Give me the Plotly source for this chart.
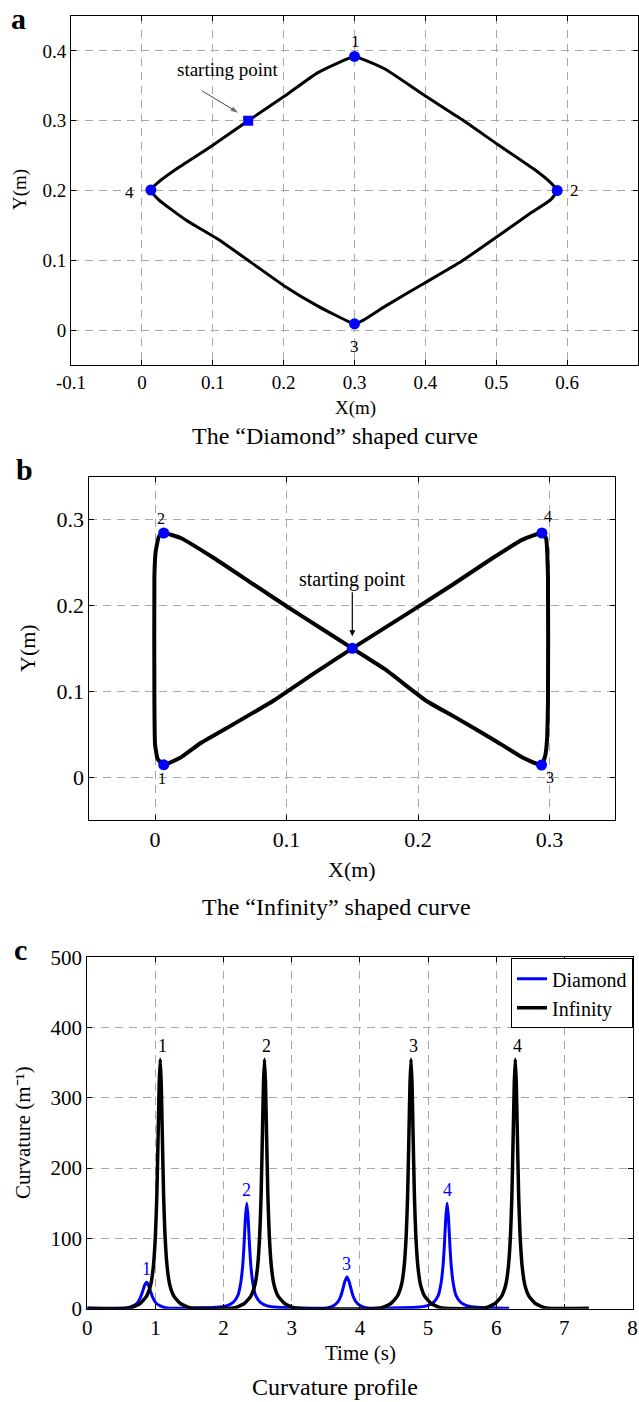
import plotly.graph_objects as go

W, H = 639, 1402
FONT = "Liberation Serif, Times New Roman, serif"

# ---------------- (a) Diamond path ----------------
dia_x = [0.150, 0.202, 0.249, 0.300, 0.312, 0.343, 0.399, 0.451, 0.502, 0.554, 0.577, 0.586,
         0.577, 0.549, 0.502, 0.451, 0.399, 0.343, 0.312, 0.300, 0.272, 0.249, 0.202, 0.155,
         0.108, 0.061, 0.0235, 0.0127, 0.0235, 0.0517, 0.0986, 0.150]
dia_y = [0.300, 0.3356, 0.3693, 0.392, 0.388, 0.374, 0.336, 0.302, 0.266, 0.230, 0.211, 0.200,
         0.187, 0.168, 0.1345, 0.0986, 0.0675, 0.034, 0.014, 0.009, 0.022, 0.034, 0.0626, 0.0963,
         0.1297, 0.1585, 0.187, 0.2006, 0.212, 0.2328, 0.2638, 0.300]
dia_pt_x = [0.300, 0.586, 0.300, 0.0127]
dia_pt_y = [0.392, 0.200, 0.009, 0.2006]
dia_pt_lbl = ["1", "2", "3", "4"]
dia_start = (0.150, 0.300)
# pointer for the "starting point" note: tail and tip, relative to the start
dia_arrow_dx = [-0.0655, -0.0140]
dia_arrow_dy = [0.0430, 0.0115]

# ---------------- (b) Infinity path ----------------
inf_x = [0.150, 0.120, 0.090, 0.060, 0.035, 0.0195, 0.0066, 0.002, 0.000, -0.0005, -0.0005,
         0.0005, 0.003, 0.0066, 0.0195, 0.0447, 0.075, 0.1003, 0.1255, 0.150, 0.1745, 0.2064,
         0.2265, 0.2568, 0.2795, 0.2939, 0.2967, 0.298, 0.2988, 0.2988, 0.2973, 0.2942,
         0.2795, 0.2568, 0.2265, 0.1988, 0.150]
inf_y = [0.150, 0.120, 0.089, 0.062, 0.040, 0.0228, 0.0143, 0.021, 0.038, 0.090, 0.234,
         0.263, 0.2806, 0.2844, 0.2786, 0.2553, 0.2244, 0.1988, 0.174, 0.150, 0.126, 0.0887,
         0.0713, 0.0442, 0.0228, 0.0140, 0.0248, 0.0422, 0.0887, 0.2341, 0.2786, 0.2844,
         0.2767, 0.2553, 0.2244, 0.1972, 0.150]
inf_pt_x = [0.0066, 0.0066, 0.2939, 0.2942]
inf_pt_y = [0.0143, 0.2844, 0.0140, 0.2844]
inf_pt_lbl = ["1", "2", "3", "4"]
inf_start = (0.150, 0.150)

# ---------------- (c) Curvature profiles ----------------
diamond_t = [0.00, 0.57, 0.67, 0.74, 0.78, 0.81, 0.84, 0.87, 0.90, 0.93, 0.96, 1.00, 1.07, 1.17,
             1.89, 2.04, 2.14, 2.21, 2.25, 2.28, 2.30, 2.32, 2.34, 2.36, 2.38, 2.40, 2.43, 2.47, 2.54, 2.64, 2.79,
             3.51, 3.61, 3.68, 3.72, 3.75, 3.78, 3.81, 3.84, 3.87, 3.90, 3.94, 4.01, 4.11,
             4.83, 4.98, 5.08, 5.15, 5.19, 5.22, 5.24, 5.26, 5.28, 5.30, 5.32, 5.34, 5.37, 5.41, 5.48, 5.58, 5.73,
             6.19]
diamond_k = [0.5, 1, 4, 9, 16, 24, 33, 37.5, 33, 24, 16, 9, 4, 1,
             2, 4, 9, 19, 36, 61, 91, 129, 150, 129, 91, 61, 36, 19, 9, 4, 2,
             1, 4, 10, 18, 28, 39, 45, 39, 28, 18, 10, 4, 1,
             2, 4, 9, 19, 36, 61, 91, 129, 150, 129, 91, 61, 36, 19, 9, 4, 2,
             0.5]
infinity_t = [0.00,
              0.62, 0.77, 0.87, 0.93, 0.97, 1.00, 1.02, 1.04, 1.055, 1.07, 1.085, 1.10, 1.12, 1.14, 1.17, 1.21, 1.27, 1.37, 1.52,
              2.15, 2.30, 2.40, 2.46, 2.50, 2.53, 2.55, 2.57, 2.585, 2.60, 2.615, 2.63, 2.65, 2.67, 2.70, 2.74, 2.80, 2.90, 3.05,
              4.30, 4.45, 4.55, 4.61, 4.65, 4.68, 4.70, 4.72, 4.735, 4.75, 4.765, 4.78, 4.80, 4.82, 4.85, 4.89, 4.95, 5.05, 5.20,
              5.83, 5.98, 6.08, 6.14, 6.18, 6.21, 6.23, 6.25, 6.265, 6.28, 6.295, 6.31, 6.33, 6.35, 6.38, 6.42, 6.48, 6.58, 6.73,
              7.36]
infinity_k = [0.5,
              1, 7, 18, 34, 61, 105, 160, 250, 320, 355, 320, 250, 160, 105, 61, 34, 18, 7, 1,
              1, 7, 18, 34, 61, 105, 160, 250, 320, 355, 320, 250, 160, 105, 61, 34, 18, 7, 1,
              1, 7, 18, 34, 61, 105, 160, 250, 320, 355, 320, 250, 160, 105, 61, 34, 18, 7, 1,
              1, 7, 18, 34, 61, 105, 160, 250, 320, 355, 320, 250, 160, 105, 61, 34, 18, 7, 1,
              0.5]
diamond_peak_t = [0.87, 2.34, 3.81, 5.28]
diamond_peak_k = [37.5, 150, 45, 150]
infinity_peak_t = [1.07, 2.60, 4.75, 6.28]
infinity_peak_k = [355, 355, 355, 355]
peak_lbl = ["1", "2", "3", "4"]

# tick labels
a_xticks = [-0.1, 0, 0.1, 0.2, 0.3, 0.4, 0.5, 0.6]
a_xtext = ["-0.1", "0", "0.1", "0.2", "0.3", "0.4", "0.5", "0.6"]
a_yticks = [0, 0.1, 0.2, 0.3, 0.4]
a_ytext = ["0", "0.1", "0.2", "0.3", "0.4"]
b_ticks = [0, 0.1, 0.2, 0.3]
b_text = ["0", "0.1", "0.2", "0.3"]
c_xticks = [0, 1, 2, 3, 4, 5, 6, 7, 8]
c_yticks = [0, 100, 200, 300, 400, 500]


def px(xp):
    return xp / W


def py(yp):
    return 1 - yp / H


def axis_style(size, **kw):
    d = dict(showline=True, linecolor="black", linewidth=1, mirror="ticks",
             ticks="inside", ticklen=5, tickwidth=1, tickcolor="black",
             showgrid=True, gridcolor="#a9a9a9", gridwidth=1, griddash="8px,6px",
             zeroline=False, automargin=False, ticklabeloverflow="allow",
             tickfont=dict(family=FONT, size=size, color="black"))
    d.update(kw)
    return d


fig = go.Figure()

# (a)
fig.add_trace(go.Scatter(x=dia_x, y=dia_y, mode="lines",
                         line=dict(color="black", width=3, shape="spline", smoothing=0.5),
                         xaxis="x", yaxis="y", showlegend=False, hoverinfo="skip"))
fig.add_trace(go.Scatter(x=dia_pt_x, y=dia_pt_y, mode="markers",
                         marker=dict(color="blue", size=11), xaxis="x", yaxis="y", showlegend=False))
fig.add_trace(go.Scatter(x=[dia_start[0]], y=[dia_start[1]], mode="markers",
                         marker=dict(color="blue", size=10, symbol="square"),
                         xaxis="x", yaxis="y", showlegend=False))
fig.add_trace(go.Scatter(x=[dia_start[0] + d for d in dia_arrow_dx],
                         y=[dia_start[1] + d for d in dia_arrow_dy],
                         mode="lines+markers", line=dict(color="#333333", width=0.9),
                         marker=dict(symbol=["line-ns", "arrow"], size=[0, 8], angleref="previous",
                                     color="#333333", line=dict(width=0)),
                         xaxis="x", yaxis="y", showlegend=False, hoverinfo="skip"))

# (b)
fig.add_trace(go.Scatter(x=inf_x, y=inf_y, mode="lines",
                         line=dict(color="black", width=4, shape="spline", smoothing=0.4),
                         xaxis="x2", yaxis="y2", showlegend=False, hoverinfo="skip"))
fig.add_trace(go.Scatter(x=inf_pt_x + [inf_start[0]], y=inf_pt_y + [inf_start[1]], mode="markers",
                         marker=dict(color="blue", size=11), xaxis="x2", yaxis="y2", showlegend=False))

# (c)
fig.add_trace(go.Scatter(x=diamond_t, y=diamond_k, mode="lines", name="Diamond",
                         line=dict(color="blue", width=3, shape="spline", smoothing=0.5),
                         xaxis="x3", yaxis="y3"))
fig.add_trace(go.Scatter(x=infinity_t, y=infinity_k, mode="lines", name="Infinity",
                         line=dict(color="black", width=3.5, shape="spline", smoothing=0.5),
                         xaxis="x3", yaxis="y3"))

ann = []

# point labels (a)
a_shift = [(1, 15), (17, 0), (0, -23), (-21, -2)]
for xv, yv, t, (dx, dy) in zip(dia_pt_x, dia_pt_y, dia_pt_lbl, a_shift):
    ann.append(dict(x=xv, y=yv, xref="x", yref="y", text=t, showarrow=False,
                    xshift=dx, yshift=dy, font=dict(family=FONT, size=17, color="black")))
ann.append(dict(x=dia_start[0], y=dia_start[1], xref="x", yref="y", text="starting point",
                showarrow=False, xshift=-20, yshift=51,
                font=dict(family=FONT, size=19, color="black")))

# point labels (b)
b_shift = [(-2, -14), (-3, 15), (8, -12), (6, 17)]
for xv, yv, t, (dx, dy) in zip(inf_pt_x, inf_pt_y, inf_pt_lbl, b_shift):
    ann.append(dict(x=xv, y=yv, xref="x2", yref="y2", text=t, showarrow=False,
                    xshift=dx, yshift=dy, font=dict(family=FONT, size=16, color="black")))
ann.append(dict(x=inf_start[0], y=inf_start[1], xref="x2", yref="y2", text="starting point",
                showarrow=True, ax=0, ay=-69, arrowhead=2, arrowsize=1, arrowwidth=1.2,
                arrowcolor="black", standoff=12, font=dict(family=FONT, size=20, color="black")))

# peak labels (c)
for xv, yv, t in zip(infinity_peak_t, infinity_peak_k, peak_lbl):
    ann.append(dict(x=xv, y=yv, xref="x3", yref="y3", text=t, showarrow=False,
                    yanchor="bottom", xshift=2, yshift=1,
                    font=dict(family=FONT, size=18, color="black")))
for xv, yv, t in zip(diamond_peak_t, diamond_peak_k, peak_lbl):
    ann.append(dict(x=xv, y=yv, xref="x3", yref="y3", text=t, showarrow=False,
                    yanchor="bottom", xshift=0, yshift=1,
                    font=dict(family=FONT, size=18, color="blue")))


# axis titles, captions and panel letters
def label(xp, yp, text, size, angle=0, bold=False):
    ann.append(dict(x=px(xp), y=py(yp), xref="paper", yref="paper", text=text,
                    showarrow=False, textangle=angle, xanchor="center", yanchor="middle",
                    font=dict(family=FONT, size=size, color="black",
                              weight="bold" if bold else "normal")))


label(355, 408, "X(m)", 19)
label(20, 190, "Y(m)", 19, -90)
label(335, 436, "The \u201cDiamond\u201d shaped curve", 24)
label(352, 869, "X(m)", 22)
label(27, 648, "Y(m)", 22, -90)
label(336, 907, "The \u201cInfinity\u201d shaped curve", 24)
label(360, 1353, "Time (s)", 21)
label(23, 1133, "Curvature (m\u207b\u00b9)", 21, -90)
label(335, 1387, "Curvature profile", 24)
label(18, 18, "a", 30, bold=True)
label(24, 469, "b", 30, bold=True)
label(20, 949, "c", 30, bold=True)

fig.update_layout(
    width=W, height=H, margin=dict(l=0, r=0, t=0, b=0, autoexpand=False),
    paper_bgcolor="white", plot_bgcolor="white",
    font=dict(family=FONT, color="black"),
    xaxis=axis_style(19, domain=[px(71), px(638)], range=[-0.1, 0.7],
                     tickvals=a_xticks, ticktext=a_xtext, anchor="y"),
    yaxis=axis_style(19, domain=[py(365), py(16)], range=[-0.05, 0.45],
                     tickvals=a_yticks, ticktext=a_ytext, anchor="x"),
    xaxis2=axis_style(22, domain=[px(89.3), px(615.3)], range=[-0.05, 0.35],
                      tickvals=b_ticks, ticktext=b_text, anchor="y2"),
    yaxis2=axis_style(22, domain=[py(820), py(476.7)], range=[-0.05, 0.35],
                      tickvals=b_ticks, ticktext=b_text, anchor="x2"),
    xaxis3=axis_style(21, domain=[px(87.3), px(632.5)], range=[0, 8],
                      tickvals=c_xticks, anchor="y3"),
    yaxis3=axis_style(21, domain=[py(1308.7), py(957.3)], range=[0, 500],
                      tickvals=c_yticks, anchor="x3"),
    legend=dict(x=px(633), xanchor="right", y=py(958.3), yanchor="top",
                bgcolor="white", bordercolor="black", borderwidth=1,
                font=dict(family=FONT, size=20, color="black"), itemwidth=30,
                tracegroupgap=0),
    annotations=ann,
)

fig.write_html("out.html")
